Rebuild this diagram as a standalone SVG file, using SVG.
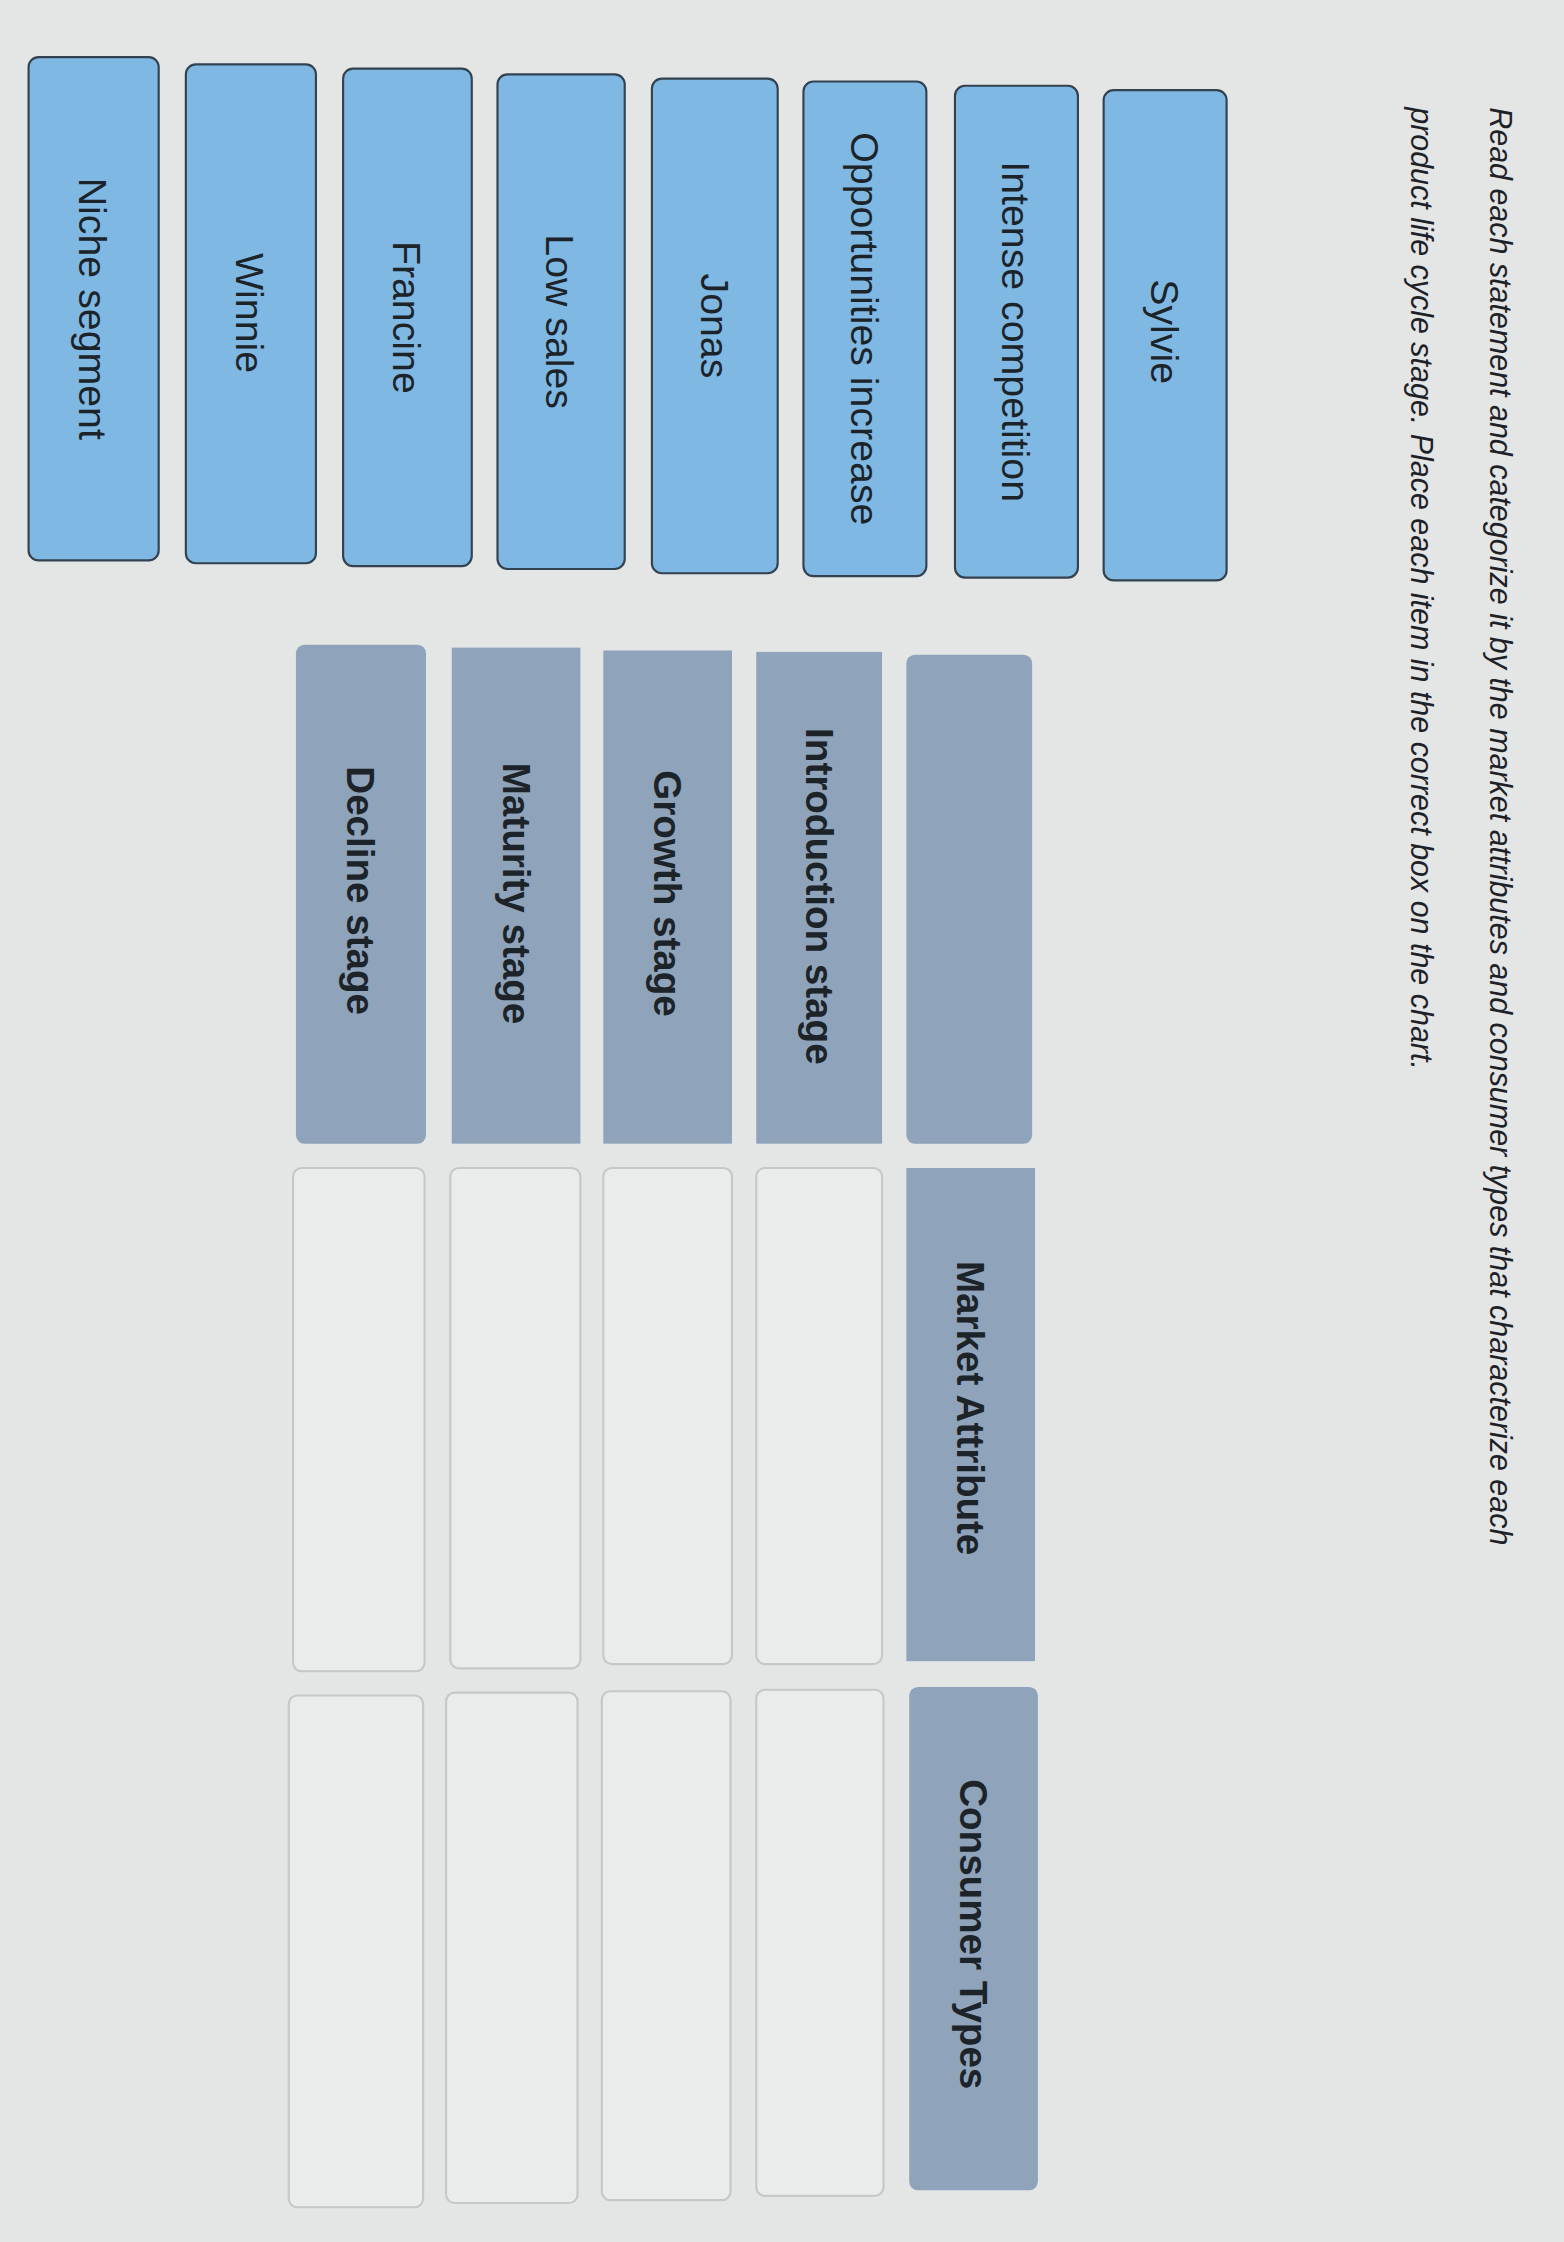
<svg xmlns="http://www.w3.org/2000/svg" width="1564" height="2242" viewBox="0 0 1564 2242">
<style>
.item rect{fill:#7fb9e3;stroke:#33424f;stroke-width:1.5}
.item text{font-family:"Liberation Sans",Arial,sans-serif;font-size:27.5px;fill:#1c2329;text-anchor:middle;dominant-baseline:central}
.hdr rect{fill:#8fa4ba}
.hdr text{font-family:"Liberation Sans",Arial,sans-serif;font-size:27px;font-weight:bold;fill:#1c2329;text-anchor:middle;dominant-baseline:central}
.cell rect{fill:#eaecec;stroke:#c4c8c9;stroke-width:1.5}
.title{font-family:"Liberation Sans",Arial,sans-serif;font-size:21.3px;font-style:italic;fill:#1e2228}
</style>
<rect width="1564" height="2242" fill="#e4e6e6"/>
<g transform="scale(1.4296)">
<g id="title">
<text class="title" x="1042" y="75" transform="rotate(90 1042 75)">Read each statement and categorize it by the market attributes and consumer types that characterize each</text>
<text class="title" x="987" y="75" transform="rotate(90 987 75)">product life cycle stage. Place each item in the correct box on the chart.</text>
</g>
<g id="item-sylvie" class="item"><rect x="772" y="63" width="86" height="343" rx="7"/><text x="815" y="232" transform="rotate(90 815 232)">Sylvie</text></g>
<g id="item-intense" class="item"><rect x="668" y="60" width="86" height="344" rx="7"/><text x="711" y="232" transform="rotate(90 711 232)">Intense competition</text></g>
<g id="item-opportunities" class="item"><rect x="562" y="57" width="86" height="346" rx="7"/><text x="605" y="230" transform="rotate(90 605 230)">Opportunities increase</text></g>
<g id="item-jonas" class="item"><rect x="456" y="55" width="88" height="346" rx="7"/><text x="500" y="228" transform="rotate(90 500 228)">Jonas</text></g>
<g id="item-lowsales" class="item"><rect x="348" y="52" width="89" height="346" rx="7"/><text x="392" y="225" transform="rotate(90 392 225)">Low sales</text></g>
<g id="item-francine" class="item"><rect x="240" y="48" width="90" height="348" rx="7"/><text x="285" y="222" transform="rotate(90 285 222)">Francine</text></g>
<g id="item-winnie" class="item"><rect x="130" y="45" width="91" height="349" rx="7"/><text x="175" y="219" transform="rotate(90 175 219)">Winnie</text></g>
<g id="item-niche" class="item"><rect x="20" y="40" width="91" height="352" rx="7"/><text x="65" y="216" transform="rotate(90 65 216)">Niche segment</text></g>
<g id="hdr-blank" class="hdr"><rect x="634" y="458" width="88" height="342" rx="6"/></g>
<g id="hdr-intro" class="hdr"><rect x="529" y="456" width="88" height="344"/><text x="573" y="627" transform="rotate(90 573 627)">Introduction stage</text></g>
<g id="hdr-growth" class="hdr"><rect x="422" y="455" width="90" height="345"/><text x="467" y="625" transform="rotate(90 467 625)">Growth stage</text></g>
<g id="hdr-maturity" class="hdr"><rect x="316" y="453" width="90" height="347"/><text x="361" y="625" transform="rotate(90 361 625)">Maturity stage</text></g>
<g id="hdr-decline" class="hdr"><rect x="207" y="451" width="91" height="349" rx="6"/><text x="252" y="623" transform="rotate(90 252 623)">Decline stage</text></g>
<g id="hdr-market" class="hdr"><rect x="634" y="817" width="90" height="345"/><text x="679" y="985" transform="rotate(90 679 985)">Market Attribute</text></g>
<g id="hdr-consumer" class="hdr"><rect x="636" y="1180" width="90" height="352" rx="6"/><text x="681" y="1353" transform="rotate(90 681 1353)">Consumer Types</text></g>
<g id="cells" class="cell">
<rect x="529" y="817" width="88" height="347" rx="6"/>
<rect x="422" y="817" width="90" height="347" rx="6"/>
<rect x="315" y="817" width="91" height="350" rx="6"/>
<rect x="205" y="817" width="92" height="352" rx="6"/>
<rect x="529" y="1182" width="89" height="354" rx="6"/>
<rect x="421" y="1183" width="90" height="356" rx="6"/>
<rect x="312" y="1184" width="92" height="357" rx="6"/>
<rect x="202" y="1186" width="94" height="358" rx="6"/>
</g>
<g id="connectors"/>
</g>
</svg>
